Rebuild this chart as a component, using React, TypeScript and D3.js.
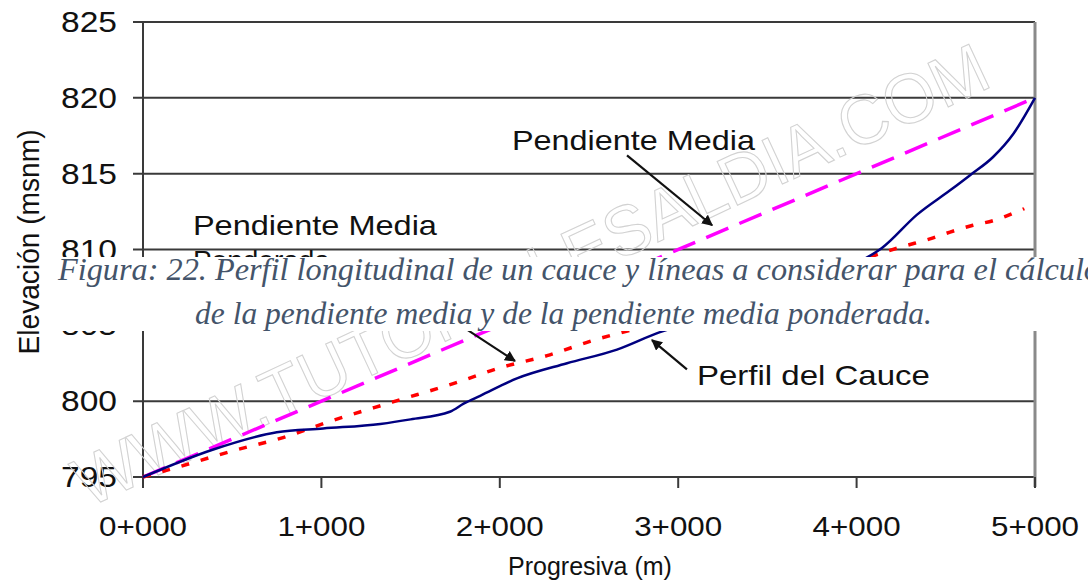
import React, { useEffect, useRef } from 'react';
import * as d3 from 'd3';

// progresiva (m) / elevación (msnm)
const cauceX = [0, 390, 750, 1010, 1330, 1500, 1720, 1800, 1890, 2096, 2377, 2657, 2898, 3200, 3500, 3800, 4000, 4142, 4339, 4524, 4636, 4765, 4877, 5000];
const cauceY = [795, 796.8, 797.95, 798.2, 798.5, 798.8, 799.3, 799.85, 800.35, 801.5, 802.5, 803.4, 804.55, 805.5, 806.6, 808, 809.1, 810.1, 812.3, 813.9, 814.9, 816.1, 817.6, 820];

const mediaX = [0, 5000];
const mediaY = [795, 820];

const ponderadaX = [0, 151, 527, 785, 1031, 1401, 1777, 2001, 2265, 2522, 2674, 3000, 3500, 4000, 4148, 4260, 4411, 4524, 4652, 4765, 4899, 4940];
const ponderadaY = [795, 795.5, 796.8, 797.6, 798.6, 799.95, 801.3, 802.2, 803.0, 804.0, 804.5, 805.5, 807.3, 809.2, 809.8, 810.2, 810.7, 811.15, 811.6, 811.9, 812.5, 812.7];

const xTicks = [0, 1000, 2000, 3000, 4000, 5000];
const xTickLabels = ['0+000', '1+000', '2+000', '3+000', '4+000', '5+000'];
const yTicks = [795, 800, 805, 810, 815, 820, 825];

const captionLines = [
  'Figura: 22. Perfil longitudinal de un cauce y líneas a considerar para el cálculo',
  'de la pendiente media y de la pendiente media ponderada.',
];

// annotation anchors in data units
const notes = [
  { lines: ['Pendiente Media'], x: 2068, y: 816.56, from: [2713, 816.2], to: [3190, 811.6], len: 243 },
  { lines: ['Pendiente Media', 'Ponderada'], x: 280, y: 810.95, from: [1480, 807.3], to: [2085, 802.65], len: 244 },
  { lines: ['Perfil del Cauce'], x: 3105, y: 801.06, from: [3049, 802.1], to: [2853, 804.03], len: 233 },
];

const W = 1088;
const H = 582;
const FONT = '"Liberation Sans", Arial, sans-serif';

export default function App() {
  const ref = useRef<SVGSVGElement>(null);

  useEffect(() => {
    document.body.style.margin = '0';
    const svg = d3.select(ref.current).attr('width', W).attr('height', H);
    svg.selectAll('*').remove();

    const x = d3.scaleLinear().domain([0, 5000]).range([143, 1035]);
    const y = d3.scaleLinear().domain([795, 825]).range([477, 22]);

    svg.append('rect').attr('width', W).attr('height', H).attr('fill', '#fff');

    const defs = svg.append('defs');
    defs.append('marker')
      .attr('id', 'arr')
      .attr('viewBox', '0 0 10 10')
      .attr('refX', 9).attr('refY', 5)
      .attr('markerWidth', 5).attr('markerHeight', 5)
      .attr('markerUnits', 'strokeWidth')
      .attr('orient', 'auto')
      .append('path').attr('d', 'M0,0 L10,5 L0,10 Z').attr('fill', '#111');

    // grid + y ticks
    svg.append('g').selectAll('line').data(yTicks).enter().append('line')
      .attr('x1', x(0) - 10).attr('x2', x(5000))
      .attr('y1', d => y(d)).attr('y2', d => y(d))
      .attr('stroke', '#3a3a3a').attr('stroke-width', 2);

    svg.append('g').selectAll('text').data(yTicks).enter().append('text')
      .attr('x', 117).attr('y', d => y(d) + 10)
      .attr('text-anchor', 'end')
      .attr('font-family', FONT).attr('font-size', 29)
      .attr('textLength', 56).attr('lengthAdjust', 'spacingAndGlyphs')
      .attr('fill', '#111')
      .text(d => d);

    // frame
    svg.append('line').attr('x1', x(0)).attr('x2', x(0)).attr('y1', y(825)).attr('y2', y(795))
      .attr('stroke', '#3a3a3a').attr('stroke-width', 2);
    svg.append('line').attr('x1', x(5000)).attr('x2', x(5000)).attr('y1', y(825)).attr('y2', y(795) + 10)
      .attr('stroke', '#8a8a8a').attr('stroke-width', 3);

    // x ticks
    svg.append('g').selectAll('line').data(xTicks).enter().append('line')
      .attr('x1', d => x(d)).attr('x2', d => x(d))
      .attr('y1', y(795)).attr('y2', y(795) + 11)
      .attr('stroke', '#3a3a3a').attr('stroke-width', 2);

    svg.append('g').selectAll('text').data(xTicks).enter().append('text')
      .attr('x', d => x(d)).attr('y', 536)
      .attr('text-anchor', 'middle')
      .attr('font-family', FONT).attr('font-size', 28)
      .attr('textLength', 88).attr('lengthAdjust', 'spacingAndGlyphs')
      .attr('fill', '#111')
      .text((d, i) => xTickLabels[i]);

    svg.append('text')
      .attr('x', 590).attr('y', 575)
      .attr('text-anchor', 'middle')
      .attr('font-family', FONT).attr('font-size', 25)
      .attr('fill', '#111')
      .text('Progresiva (m)');

    svg.append('text')
      .attr('transform', 'translate(39,242) rotate(-90)')
      .attr('text-anchor', 'middle')
      .attr('font-family', FONT).attr('font-size', 30)
      .attr('textLength', 225).attr('lengthAdjust', 'spacingAndGlyphs')
      .attr('fill', '#111')
      .text('Elevación (msnm)');

    // watermark
    svg.append('text')
      .attr('transform', 'translate(88,508) rotate(-25)')
      .attr('font-family', FONT).attr('font-size', 70)
      .attr('textLength', 1000).attr('lengthAdjust', 'spacingAndGlyphs')
      .attr('fill', 'none').attr('stroke', '#d2d2d2').attr('stroke-width', 1.1)
      .text('WWW.TUTORIALESALDIA.COM');

    const path = (xs: number[], ys: number[]) =>
      d3.line<number>().x(i => x(xs[i])).y(i => y(ys[i])).curve(d3.curveMonotoneX)(d3.range(xs.length));

    svg.append('path').attr('d', path(mediaX, mediaY))
      .attr('fill', 'none').attr('stroke', '#ff00ff').attr('stroke-width', 3.5)
      .attr('stroke-dasharray', '24 12');

    svg.append('path').attr('d', path(ponderadaX, ponderadaY))
      .attr('fill', 'none').attr('stroke', '#ff0000').attr('stroke-width', 3.5)
      .attr('stroke-dasharray', '8 12');

    svg.append('path').attr('d', path(cauceX, cauceY))
      .attr('fill', 'none').attr('stroke', '#000080').attr('stroke-width', 2.5);

    // annotations
    notes.forEach(n => {
      n.lines.forEach((t, i) => {
        svg.append('text')
          .attr('x', x(n.x)).attr('y', y(n.y) + i * 35)
          .attr('font-family', FONT).attr('font-size', 28)
          .attr('textLength', i === 0 ? n.len : 137).attr('lengthAdjust', 'spacingAndGlyphs')
          .attr('fill', '#111')
          .text(t);
      });
      svg.append('line')
        .attr('x1', x(n.from[0])).attr('y1', y(n.from[1]))
        .attr('x2', x(n.to[0])).attr('y2', y(n.to[1]))
        .attr('stroke', '#111').attr('stroke-width', 2.2)
        .attr('marker-end', 'url(#arr)');
    });

    // caption box overlapping the chart
    svg.append('rect').attr('x', 46).attr('y', 257).attr('width', W - 46).attr('height', 74).attr('fill', '#fff');
    const cap = svg.append('g')
      .attr('font-family', 'Liberation Serif')
      .attr('font-style', 'italic').attr('font-size', 31).attr('fill', '#44546a');
    cap.append('text').attr('x', 58).attr('y', 280)
      .attr('textLength', 1042).attr('lengthAdjust', 'spacingAndGlyphs')
      .text(captionLines[0]);
    cap.append('text').attr('x', 195).attr('y', 324)
      .attr('textLength', 737).attr('lengthAdjust', 'spacingAndGlyphs')
      .text(captionLines[1]);
  }, []);

  return <svg ref={ref} style={{ display: 'block' }}></svg>;
}
